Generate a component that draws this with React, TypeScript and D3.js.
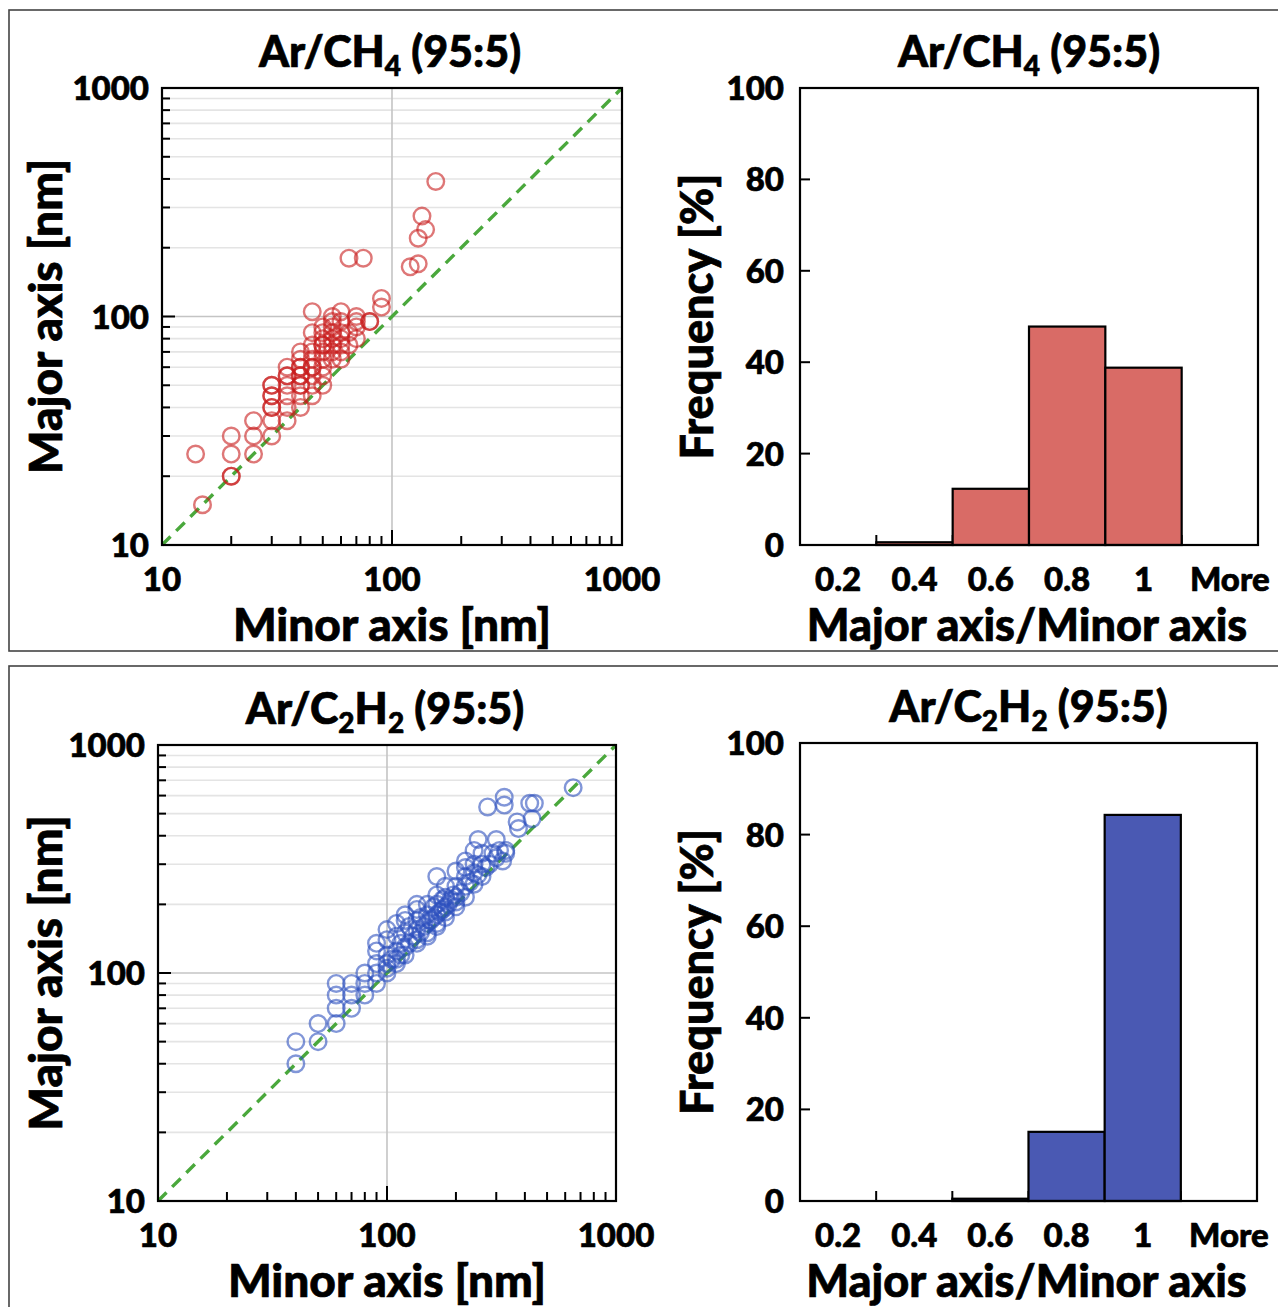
import * as d3 from 'd3'
import { useEffect } from 'react'

// ratio categories of the histograms
const bins = ['0.2', '0.4', '0.6', '0.8', '1', 'More']
const freqCH4 = [0, 0.6, 12.3, 47.8, 38.8, 0]
const freqC2H2 = [0, 0, 0.5, 15.1, 84.3, 0]
const freqTicks = [0, 20, 40, 60, 80, 100]
const logTicks = [10, 100, 1000]

// Ar/CH4 particles: minor axis / major axis [nm]
const minorCH4 = [14, 15, 20, 20, 20, 20, 25, 25, 25, 30, 30, 30, 30, 30, 30, 30,
  35, 35, 35, 35, 35, 40, 40, 40, 40, 40, 40, 40, 40, 45, 45, 45, 45, 45, 45, 45, 45,
  50, 50, 50, 50, 50, 50, 50, 55, 55, 55, 55, 55, 55, 60, 60, 60, 60, 60,
  70, 70, 70, 70, 80, 80, 90, 90, 65, 75, 120, 130, 130, 135, 140, 155,
  35, 40, 45, 50, 50, 55, 60, 45, 40, 55, 60, 50, 65, 65, 35, 30]
const majorCH4 = [25, 15, 30, 25, 20, 20, 35, 30, 25, 50, 45, 40, 35, 30, 50, 40,
  60, 55, 45, 35, 55, 70, 60, 55, 50, 45, 40, 50, 60, 105, 85, 70, 60, 55, 45, 65, 75,
  80, 75, 70, 60, 50, 75, 65, 100, 95, 85, 75, 70, 80, 105, 85, 75, 65, 95,
  100, 90, 80, 95, 95, 95, 120, 110, 180, 180, 165, 170, 220, 275, 240, 390,
  50, 55, 50, 55, 85, 65, 70, 60, 65, 90, 80, 90, 75, 85, 40, 45]

// Ar/C2H2 particles: minor axis / major axis [nm]
const minorC2H2 = [40, 40, 50, 50, 60, 60, 60, 60, 70, 70, 70, 80, 80, 80, 90, 90, 90, 90, 90,
  100, 100, 100, 100, 100, 100, 110, 110, 110, 110, 110, 120, 120, 120, 120, 120,
  135, 135, 135, 135, 135, 135, 150, 150, 150, 150, 150, 165, 165, 165, 165, 165, 165,
  180, 180, 180, 180, 180, 200, 200, 200, 200, 200, 220, 220, 220, 220, 220,
  240, 240, 240, 240, 260, 260, 260, 250, 290, 300, 310, 320, 330, 330,
  275, 325, 325, 370, 375, 420, 440, 430, 650,
  105, 115, 125, 130, 140, 145, 155, 160, 170, 175, 185, 190, 195, 210, 230, 250,
  270, 280, 300, 115, 125, 140, 160, 175]
const majorC2H2 = [40, 50, 50, 60, 60, 70, 80, 90, 70, 80, 90, 80, 90, 100, 90, 100, 110, 125, 135,
  100, 105, 120, 140, 155, 110, 110, 115, 125, 145, 165, 120, 130, 150, 170, 180,
  140, 155, 170, 190, 200, 135, 150, 165, 180, 200, 145, 165, 180, 200, 220, 265, 160,
  175, 195, 215, 240, 185, 195, 215, 240, 280, 205, 215, 240, 265, 290, 310,
  245, 275, 300, 345, 265, 300, 335, 385, 335, 385, 345, 310, 345, 335,
  535, 590, 545, 460, 430, 555, 555, 475, 650,
  115, 120, 135, 145, 150, 160, 170, 175, 185, 190, 200, 210, 220, 225, 250, 270,
  290, 300, 320, 135, 160, 175, 195, 210]

const FONT = "Lato, 'Open Sans', sans-serif"
// heavier strokes to get closer to the bold look of the original
const bold = { fontFamily: FONT, fontWeight: 900, stroke: '#000', strokeWidth: 0.7 }

const Title = ({ x, y, parts }) => (
  <text x={x} y={y} textAnchor="middle" {...bold} fontSize={43}>
    {parts.map(([s, sub], i) => {
      const prevSub = i > 0 && parts[i - 1][1]
      const dy = sub && !prevSub ? 9 : !sub && prevSub ? -9 : 0
      return <tspan key={i} dy={dy} fontSize={sub ? 28 : 43}>{s}</tspan>
    })}
  </text>
)

const Scatter = ({ box, title, minor, major, color }) => {
  const { l, r, t, b } = box
  const x = d3.scaleLog().domain([10, 1000]).range([l, r])
  const y = d3.scaleLog().domain([10, 1000]).range([b, t])
  const ticks = y.ticks()
  const cx = (l + r) / 2, cy = (t + b) / 2
  return (
    <g>
      {ticks.map(v => (
        <line key={'g' + v} x1={l} x2={r} y1={y(v)} y2={y(v)}
          stroke={logTicks.includes(v) ? '#c4c4c4' : '#e4e4e4'} strokeWidth={1.6} />
      ))}
      <line x1={x(100)} x2={x(100)} y1={t} y2={b} stroke="#c4c4c4" strokeWidth={1.6} />
      {ticks.map(v => (
        <line key={'ty' + v} x1={l} x2={l + (v === 100 ? 13 : 8)} y1={y(v)} y2={y(v)} stroke="#000" strokeWidth={2} />
      ))}
      {x.ticks().map(v => (
        <line key={'tx' + v} x1={x(v)} x2={x(v)} y1={b} y2={b - (v === 100 ? 15 : 9)} stroke="#000" strokeWidth={2} />
      ))}
      <line x1={x(10)} y1={y(10)} x2={x(1000)} y2={y(1000)}
        stroke="#4aa83c" strokeWidth={3.4} strokeDasharray="12,8" />
      {minor.map((v, i) => (
        <circle key={i} cx={x(v)} cy={y(major[i])} r={8.3} fill="none"
          stroke={color} strokeOpacity={0.6} strokeWidth={2.4} />
      ))}
      <rect x={l} y={t} width={r - l} height={b - t} fill="none" stroke="#000" strokeWidth={2.2} />
      <g {...bold} fontSize={33}>
        {logTicks.map(v => (
          <text key={'ly' + v} x={l - 13} y={y(v) + 12} textAnchor="end">{v}</text>
        ))}
        {logTicks.map(v => (
          <text key={'lx' + v} x={x(v)} y={b + 46} textAnchor="middle">{v}</text>
        ))}
      </g>
      <Title x={cx - 2} y={t - 21} parts={title} />
      <g {...bold} fontSize={46}>
        <text x={cx} y={b + 96} textAnchor="middle">Minor axis [nm]</text>
        <text transform={`translate(62,${cy}) rotate(-90)`} textAnchor="middle">Major axis [nm]</text>
      </g>
    </g>
  )
}

const Histogram = ({ box, title, values, fill }) => {
  const { l, r, t, b } = box
  const x = d3.scaleBand().domain(bins).range([l, r]).padding(0)
  const y = d3.scaleLinear().domain([0, 100]).range([b, t])
  const cy = (t + b) / 2
  return (
    <g>
      {freqTicks.map(v => (
        <line key={'ty' + v} x1={l} x2={l + 10} y1={y(v)} y2={y(v)} stroke="#000" strokeWidth={2} />
      ))}
      {bins.slice(1).map(c => (
        <line key={'tx' + c} x1={x(c)} x2={x(c)} y1={b} y2={b - 10} stroke="#000" strokeWidth={2} />
      ))}
      {bins.map((c, i) => values[i] > 0 && (
        <rect key={c} x={x(c)} y={y(values[i])} width={x.bandwidth()} height={b - y(values[i])}
          fill={fill} stroke="#000" strokeWidth={2.2} />
      ))}
      <rect x={l} y={t} width={r - l} height={b - t} fill="none" stroke="#000" strokeWidth={2.2} />
      <g {...bold} fontSize={33}>
        {freqTicks.map(v => (
          <text key={'ly' + v} x={l - 16} y={y(v) + 12} textAnchor="end">{v}</text>
        ))}
        {bins.map(c => (
          <text key={'lx' + c} x={x(c) + x.bandwidth() / 2 + (c === 'More' ? 10 : 0)} y={b + 46}
            textAnchor="middle">{c}</text>
        ))}
      </g>
      <Title x={(l + r) / 2} y={t - 21} parts={title} />
      <g {...bold} fontSize={45}>
        <text x={(l + r) / 2 - 2} y={b + 96} textAnchor="middle">Major axis/Minor axis</text>
        <text transform={`translate(713,${cy}) rotate(-90)`} textAnchor="middle">Frequency [%]</text>
      </g>
    </g>
  )
}

const titleCH4 = [['Ar/CH', false], ['4', true], [' (95:5)', false]]
const titleC2H2 = [['Ar/C', false], ['2', true], ['H', false], ['2', true], [' (95:5)', false]]

export default function App() {
  useEffect(() => { document.body.style.margin = '0' }, [])
  return (
    <svg width={1278} height={1307} style={{ display: 'block', background: '#fff' }}>
      <rect x={9} y={10} width={1290} height={641} fill="none" stroke="#444" strokeWidth={1.6} />
      <rect x={9} y={666} width={1290} height={660} fill="none" stroke="#444" strokeWidth={1.6} />
      <Scatter box={{ l: 162, r: 622, t: 88, b: 545 }} title={titleCH4}
        minor={minorCH4} major={majorCH4} color="rgb(200,28,28)" />
      <Histogram box={{ l: 800, r: 1258, t: 88, b: 545 }} title={titleCH4}
        values={freqCH4} fill="#d96b66" />
      <Scatter box={{ l: 158, r: 616, t: 745, b: 1201 }} title={titleC2H2}
        minor={minorC2H2} major={majorC2H2} color="rgb(45,80,190)" />
      <Histogram box={{ l: 800, r: 1257, t: 743, b: 1201 }} title={titleC2H2}
        values={freqC2H2} fill="#4a59b3" />
    </svg>
  )
}
